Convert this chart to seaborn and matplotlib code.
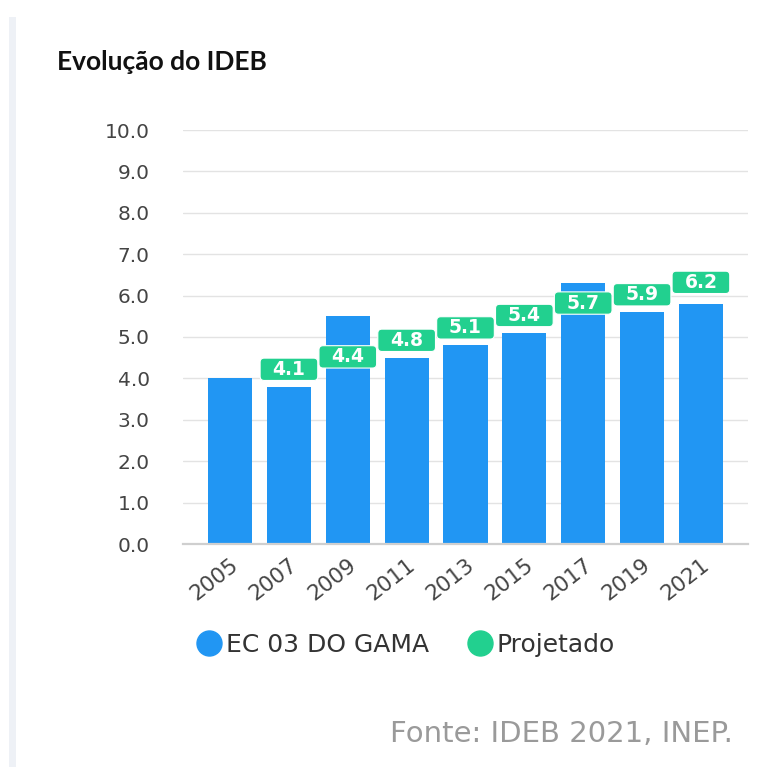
import matplotlib
matplotlib.use("Agg")
import matplotlib.pyplot as plt
import seaborn as sns
import pandas as pd
import numpy as np
from matplotlib.patches import FancyBboxPatch, Rectangle
from matplotlib.lines import Line2D

# ---- data ----
anos = ["2005", "2007", "2009", "2011", "2013", "2015", "2017", "2019", "2021"]
escola = [4.0, 3.8, 5.5, 4.5, 4.8, 5.1, 6.3, 5.6, 5.8]
projetado = [None, 4.1, 4.4, 4.8, 5.1, 5.4, 5.7, 5.9, 6.2]
yticks = [0, 1, 2, 3, 4, 5, 6, 7, 8, 9, 10]
serie_escola = "EC 03 DO GAMA"
serie_proj = "Projetado"
titulo = "Evolução do IDEB"
fonte = "Fonte: IDEB 2021, INEP."

BLUE = "#2196F3"
GREEN = "#22d08f"

sns.set_theme(style="white")
plt.rcParams["font.family"] = ["DejaVu Sans"]

fig = plt.figure(figsize=(7.57, 7.67), dpi=100)
W, H = 757, 767
ax = fig.add_axes([183 / W, 223 / H, (748 - 183) / W, (637 - 223) / H])

df = pd.DataFrame({"ano": anos, "valor": escola})
sns.barplot(data=df, x="ano", y="valor", color=BLUE, saturation=1,
            width=0.75, ax=ax, zorder=2, linewidth=0, edgecolor="none")

ax.set_xlim(-0.8, 8.8)
ax.set_ylim(0, 10)
ax.set_yticks(yticks)
ax.set_yticklabels([f"{v:.1f}" for v in yticks], fontsize=14.5, color="#444444")
ax.set_xticks(range(len(anos)))
ax.set_xticklabels(anos, rotation=38, ha="right", rotation_mode="anchor",
                   fontsize=15.5, color="#444444")
ax.set_xlabel("")
ax.set_ylabel("")
ax.grid(axis="y", color="#e3e3e3", linewidth=1, zorder=0)
ax.grid(axis="x", visible=False)
for s in ["top", "right", "left"]:
    ax.spines[s].set_visible(False)
ax.spines["bottom"].set_color("#cfcfcf")
ax.spines["bottom"].set_linewidth(1.6)
ax.tick_params(axis="y", length=0, pad=24)
ax.tick_params(axis="x", length=8, color="#d0d0d0", width=1, pad=0)

# projected value labels
aspect = 58.75 / 41.4
for i, v in enumerate(projetado):
    if v is None:
        continue
    box = FancyBboxPatch((i - 0.49, v - 0.15), 0.98, 0.54,
                         boxstyle="round,pad=0,rounding_size=0.07",
                         mutation_aspect=aspect, fc=GREEN, ec="white",
                         lw=0.8, zorder=4 + i * 0.01)
    ax.add_patch(box)
    ax.text(i, v + 0.12, f"{v:.1f}", ha="center", va="center",
            color="white", fontsize=13.5, fontweight="bold", zorder=5)

# title
fig.text(57 / W, 1 - 62 / H, titulo, fontsize=19, fontweight="bold",
         family=["Lato", "DejaVu Sans"], color="#111111", va="center")

# legend
handles = [Line2D([], [], marker="o", linestyle="", markersize=18,
                  markerfacecolor=BLUE, markeredgecolor=BLUE),
           Line2D([], [], marker="o", linestyle="", markersize=18,
                  markerfacecolor=GREEN, markeredgecolor=GREEN)]
fig.legend(handles, [serie_escola, serie_proj], loc="center left",
           bbox_to_anchor=(178 / W, 1 - 645 / H), ncol=2, frameon=False,
           fontsize=18, handlelength=0.7, handletextpad=0.3,
           columnspacing=1.7, labelcolor="#333333")

# source
fig.text(390 / W, 1 - 734 / H, fonte, fontsize=21, color="#9a9a9a",
         va="center")

# left decorative bar
fig.add_artist(Rectangle((9 / W, 0), 7 / W, 1 - 17 / H,
                         transform=fig.transFigure, color="#eef1f6", lw=0))

fig.savefig("out.png", dpi=100)
